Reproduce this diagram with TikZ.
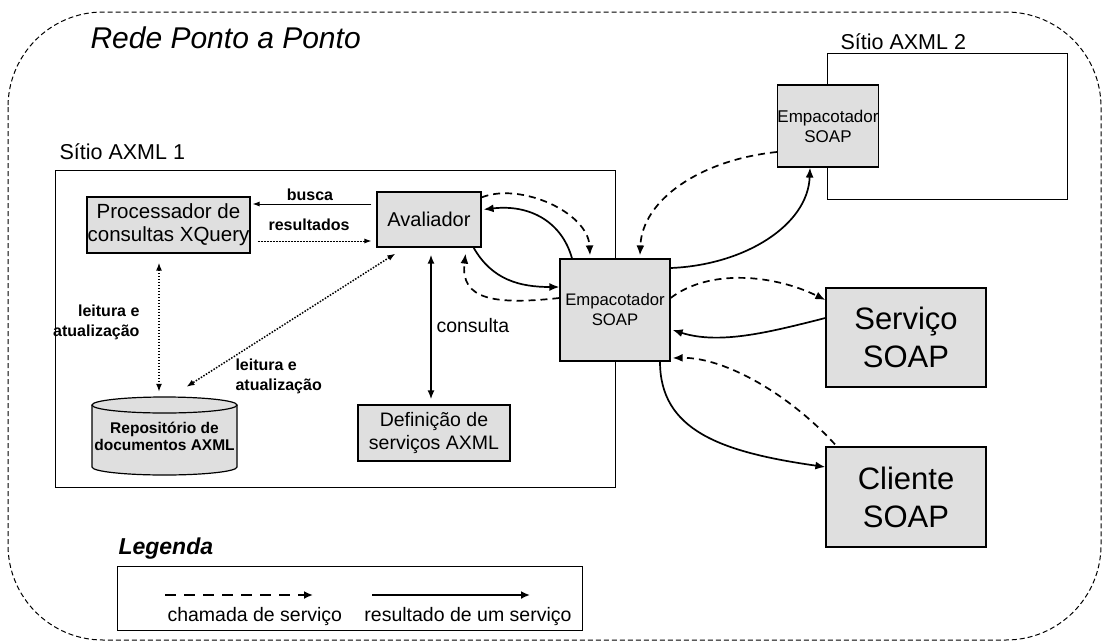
\documentclass[tikz,border=0pt]{standalone}
\usepackage{fontspec}
\setmainfont{Liberation Sans}
\usetikzlibrary{arrows.meta,calc}

\begin{document}
\begin{tikzpicture}[x=1pt,y=-1pt,
  boxfill/.style={fill=gray!25},
  comp/.style={draw,line width=1.2pt,boxfill,inner sep=0pt,align=center},
  site/.style={draw,line width=1pt},
  tip/.style={-{Latex[length=10pt,width=8pt]}},
  call/.style={line width=1.7pt,dash pattern=on 7pt off 5pt,tip},
  result/.style={line width=1.7pt,tip},
  rw/.style={line width=1.5pt,dash pattern=on 1.5pt off 1.5pt,
    {Latex[length=8pt,width=6pt]}-{Latex[length=8pt,width=6pt]}},
  thin/.style={line width=0.9pt,-{Latex[length=7pt,width=5pt]}},
  fsmall/.style={font=\fontsize{16.7}{20}\selectfont},
  fmed/.style={font=\fontsize{19.5}{23}\selectfont},
  flabel/.style={font=\fontsize{21.5}{25}\selectfont},
  fbig/.style={font=\fontsize{31}{38}\selectfont},
  fbold/.style={font=\fontsize{16}{20}\selectfont\bfseries},
]
\useasboundingbox (0,0) rectangle (1105,643);

% peer-to-peer network boundary
\draw[line width=1pt,dash pattern=on 5pt off 3pt,rounded corners=95pt]
  (8,12) rectangle (1101,640);
\node[anchor=west,font=\fontsize{30}{34}\selectfont\itshape] (title) at (87,38) {Rede Ponto a Ponto};

% site 1
\node[anchor=west,flabel] (s1label) at (56,152) {Sítio AXML 1};
\draw[site] (55,170) rectangle (615,487);

% site 2
\node[anchor=west,flabel] (s2label) at (837,42) {Sítio AXML 2};
\draw[site] (827,53) rectangle (1067,199);

% components
\node[comp,minimum width=163pt,minimum height=56pt,font=\fontsize{20.5}{23}\selectfont]
  (proc) at (168.5,225) {Processador de\\consultas XQuery};
\node[comp,minimum width=104pt,minimum height=55pt,font=\fontsize{20}{23}\selectfont] (aval) at (429,219.5) {Avaliador};
\node[comp,minimum width=152pt,minimum height=56pt,fmed] (def) at (434,433) {Definição de\\serviços AXML};
\node[comp,minimum width=110pt,minimum height=102pt,fsmall] (emp) at (615,310) {Empacotador\\SOAP};
\node[comp,minimum width=100pt,minimum height=82pt,font=\fontsize{17}{20}\selectfont] (emp2) at (828,126) {Empacotador\\SOAP};
\node[comp,minimum width=160pt,minimum height=99pt,fbig] (serv) at (906,337.5) {Serviço\\SOAP};
\node[comp,minimum width=160pt,minimum height=100pt,fbig] (cli) at (906,497) {Cliente\\SOAP};

% repository drawn as a cylinder
\fill[boxfill] (92,405) -- (92,467) arc[start angle=180,end angle=360,x radius=72.5pt,y radius=8pt]
  -- (237,405) arc[start angle=0,end angle=180,x radius=72.5pt,y radius=8pt] -- cycle;
\draw[line width=1.2pt] (164.5,405) ellipse[x radius=72.5pt,y radius=8pt];
\draw[line width=1.2pt] (92,405) -- (92,467) arc[start angle=180,end angle=360,x radius=72.5pt,y radius=8pt] -- (237,405);
\node[minimum width=145pt,minimum height=78pt,inner sep=0pt,align=center,
  font=\fontsize{15.5}{17}\selectfont\bfseries] (repo) at (164.5,436) {Repositório de\\documentos AXML};

% query processor <-> evaluator
\coordinate (bq) at ([yshift=15.5pt]aval.west);
\coordinate (rs) at ([yshift=-21.5pt]aval.west);
\draw[thin] ([xshift=-5pt]bq) -- ([xshift=2pt]bq -| proc.east);
\draw[thin,dash pattern=on 2pt off 1pt] ([xshift=7pt]rs -| proc.east) -- ([xshift=-5pt]rs);
\node[fbold] (lbusca) at (310,195) {busca};
\node[fbold] (lres) at (309,225) {resultados};

% reading and updating the repository
\draw[rw] ([xshift=-9.5pt,yshift=-9pt]proc.south) -- ([xshift=-5.5pt,yshift=5pt]repo.north);
\draw[rw] ([xshift=19pt,yshift=-6pt]aval.south west) -- ([xshift=22pt,yshift=10pt]repo.north);
\node[anchor=east,align=right,fbold] (lrw1) at (143,322) {leitura e\\atualização};
\node[anchor=west,align=left,fbold] (lrw2) at (232,376) {leitura e\\atualização};

% evaluator <-> service definitions
\draw[line width=2pt,{Latex[length=9pt,width=7pt]}-{Latex[length=9pt,width=7pt]}]
  ([xshift=2pt,yshift=-7pt]aval.south) -- ([xshift=-3pt,yshift=5pt]def.north);
\node[anchor=west,fmed] (lcons) at (433,326) {consulta};

% evaluator <-> SOAP wrapper
\draw[call] ([yshift=-6pt]aval.north east) .. controls (520,182) and (588,212) .. ([xshift=-25pt,yshift=3pt]emp.north);
\draw[result] ([xshift=-43pt]emp.north) .. controls (562,222) and (530,204) .. ([xshift=2pt,yshift=10pt]aval.east);
\draw[result] ([xshift=-8pt]aval.south east) .. controls (492,280) and (520,287) .. ([yshift=23pt]emp.west);
\draw[call] ([yshift=12pt]emp.west) .. controls (495,305) and (460,300) .. ([xshift=-16pt,yshift=-6pt]aval.south east);

% SOAP wrapper <-> remote site
\draw[call] ([yshift=-26pt]emp2.west) .. controls (700,160) and (642,200) .. ([xshift=25pt,yshift=3pt]emp.north);
\draw[result] ([yshift=42pt]emp.east) .. controls (745,265) and (808,225) .. ([xshift=-18pt]emp2.south);

% SOAP wrapper <-> SOAP service
\draw[call] ([yshift=12pt]emp.east) .. controls (710,268) and (775,275) .. ([yshift=37.5pt]serv.west);
\draw[result] ([yshift=19.5pt]serv.west) .. controls (770,332) and (720,345) .. ([xshift=2pt,yshift=-20pt]emp.east);

% SOAP wrapper <-> SOAP client
\draw[call] ([xshift=-71pt,yshift=2pt]cli.north) .. controls (790,395) and (725,357) .. ([xshift=2pt,yshift=-48pt]emp.east);
\draw[result] ([xshift=45pt]emp.south) .. controls (660,430) and (720,452) .. ([yshift=30pt]cli.west);

% legend
\node[anchor=west,font=\fontsize{23}{26}\selectfont\bfseries\itshape] (leg) at (115,549) {Legenda};
\node[draw,line width=1pt,minimum width=465pt,minimum height=64pt,inner sep=0pt] (legbox) at (349.5,598) {};
\coordinate (c1) at (165,595);
\coordinate (c2) at (313,595);
\coordinate (r1) at (372,595);
\coordinate (r2) at (530,595);
\draw[line width=2.5pt,dash pattern=on 11pt off 8pt,-{Latex[length=9pt,width=8pt]}] (c1) -- (c2);
\draw[line width=2.5pt,-{Latex[length=9pt,width=8pt]}] (r1) -- (r2);
\node[anchor=west,fmed] (lcall) at (164,616) {chamada de serviço};
\node[anchor=east,fmed] (lres2) at (575,616) {resultado de um serviço};
\end{tikzpicture}
\end{document}
